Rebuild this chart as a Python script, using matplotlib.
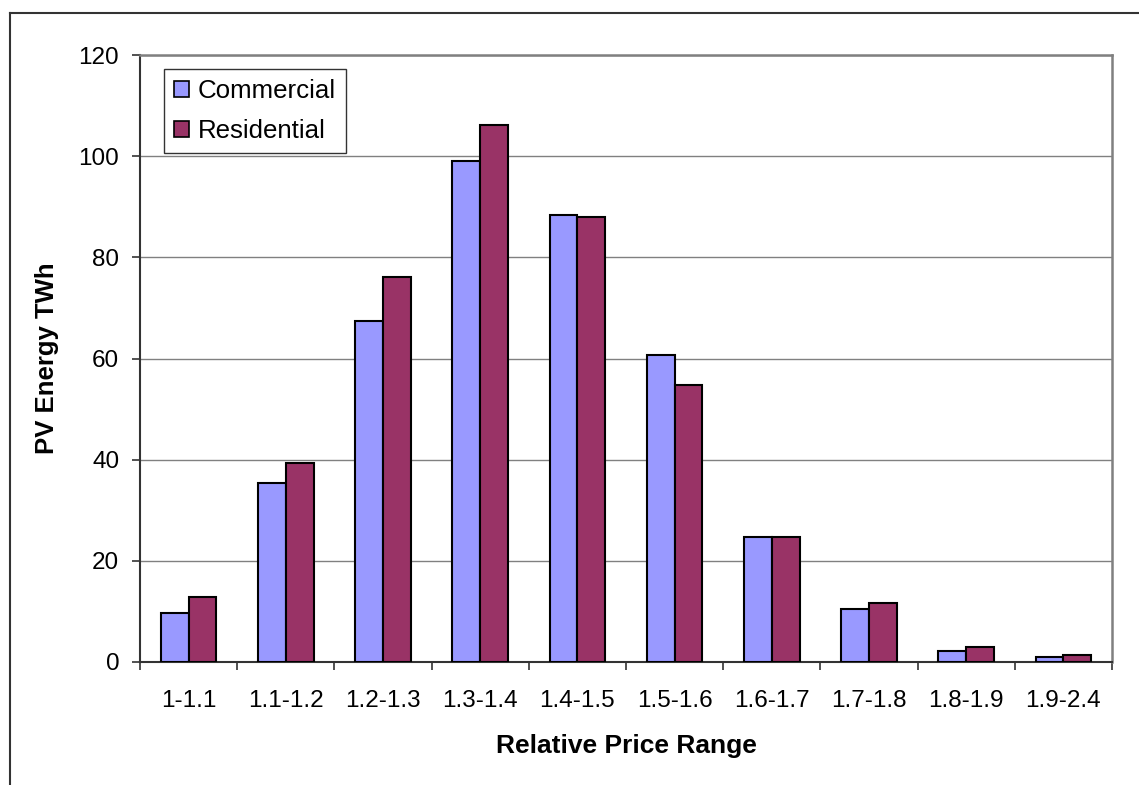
import matplotlib
matplotlib.use("Agg")
import matplotlib.pyplot as plt
import numpy as np
from matplotlib.lines import Line2D

categories = ["1-1.1", "1.1-1.2", "1.2-1.3", "1.3-1.4", "1.4-1.5",
              "1.5-1.6", "1.6-1.7", "1.7-1.8", "1.8-1.9", "1.9-2.4"]
commercial = [9.7, 35.4, 67.4, 99.0, 88.4, 60.7, 24.7, 10.5, 2.2, 1.0]
residential = [12.9, 39.4, 76.1, 106.2, 88.0, 54.8, 24.7, 11.7, 3.0, 1.4]
yticks = [0, 20, 40, 60, 80, 100, 120]

plt.rcParams['font.family'] = ['Liberation Sans', 'DejaVu Sans']

W, H = 1139, 785
fig = plt.figure(figsize=(W / 100, H / 100), dpi=100)
ax = fig.add_axes([140 / W, 1 - 662 / H, (1112 - 140) / W, (662 - 55) / H])

x = np.arange(len(categories))
w = 1 / 3.5
ax.bar(x - w / 2, commercial, width=w, color="#9999FF", edgecolor="black",
       linewidth=1.5, label="Commercial", zorder=3)
ax.bar(x + w / 2, residential, width=w, color="#993366", edgecolor="black",
       linewidth=1.5, label="Residential", zorder=3)

ax.set_xlim(-0.5, len(categories) - 0.5)
ax.set_ylim(0, 120)
ax.set_yticks(yticks)
ax.set_yticklabels([str(v) for v in yticks])
ax.grid(axis="y", color="#808080", linewidth=1.0, zorder=0)
ax.set_axisbelow(True)

ax.set_xticks(x)
ax.set_xticklabels(categories)
ax.set_xticks(np.arange(len(categories) + 1) - 0.5, minor=True)
ax.tick_params(axis="x", which="major", length=0, pad=20, labelsize=17.5)
ax.tick_params(axis="x", which="minor", length=6, width=1.2, color="#333333", direction="out")
ax.tick_params(axis="y", length=6, width=1.2, color="#333333", pad=9, labelsize=17.5)

for s in ["left", "bottom"]:
    ax.spines[s].set_color("#333333")
    ax.spines[s].set_linewidth(1.5)
for s in ["top", "right"]:
    ax.spines[s].set_color("#808080")
    ax.spines[s].set_linewidth(1.8)

ax.set_ylabel("PV Energy TWh", fontsize=18.5, fontweight="bold")
ax.yaxis.set_label_coords(-0.083, 0.5)
ax.set_xlabel("Relative Price Range", fontsize=19, fontweight="bold")
ax.xaxis.set_label_coords(0.5, -0.118)

leg = ax.legend(loc="upper left", bbox_to_anchor=((164 - 140) / 972, (662 - 69) / 607),
                frameon=True, fancybox=False, shadow=False, fontsize=18.6,
                handlelength=0.58, handleheight=0.58, handletextpad=0.35,
                borderpad=0.38, labelspacing=0.62, borderaxespad=0)
leg.get_frame().set_edgecolor("black")
leg.get_frame().set_linewidth(1.0)
for hnd in leg.legend_handles:
    hnd.set_linewidth(1.2)

# outer chart border (left and top edges visible)
fig.add_artist(Line2D([9.5 / W, 9.5 / W], [0, 1 - 13 / H], transform=fig.transFigure,
                      color="#333333", linewidth=1.5))
fig.add_artist(Line2D([9.5 / W, 1], [1 - 13 / H, 1 - 13 / H], transform=fig.transFigure,
                      color="#333333", linewidth=1.5))

fig.savefig("out.png", dpi=100)
